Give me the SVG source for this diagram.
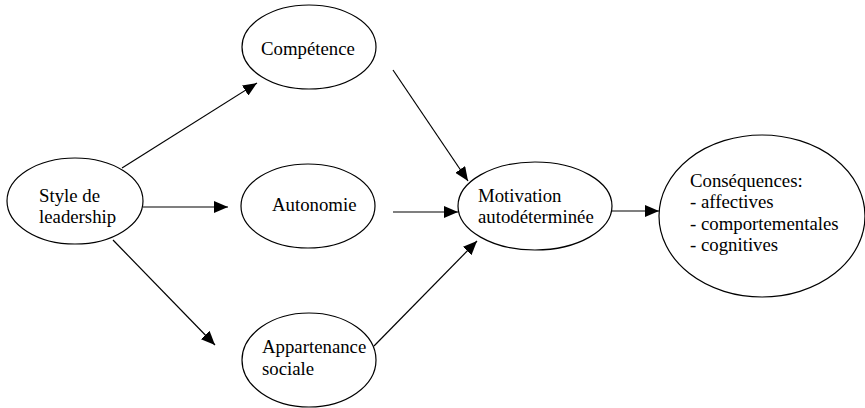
<svg xmlns="http://www.w3.org/2000/svg" width="865" height="408" viewBox="0 0 865 408">
  <defs>
    <marker id="arrow" markerUnits="userSpaceOnUse" markerWidth="15" markerHeight="12" refX="14" refY="6" orient="auto">
      <path d="M0,0 L14,6 L0,12 Z" fill="#000"/>
    </marker>
    <style>
      .node ellipse { fill: #fff; stroke: #000; stroke-width: 1.2; }
      .node text { font-family: "Liberation Serif", "Times New Roman", serif; font-size: 18.8px; fill: #000; }
      .edges line { stroke: #000; stroke-width: 1.2; marker-end: url(#arrow); }
    </style>
  </defs>
  <rect width="865" height="408" fill="#fff"/>

  <g class="edges">
    <line x1="122" y1="168" x2="257" y2="83"/>
    <line x1="143" y1="207" x2="228" y2="207"/>
    <line x1="113" y1="240" x2="215" y2="345"/>
    <line x1="393" y1="70" x2="468" y2="181"/>
    <line x1="393" y1="212" x2="458" y2="212"/>
    <line x1="374" y1="346" x2="477" y2="241"/>
    <line x1="612" y1="211" x2="659" y2="211"/>
  </g>

  <g id="style" class="node">
    <ellipse cx="75" cy="201" rx="68" ry="43"/>
    <text x="39" y="202">Style de</text>
    <text x="39" y="223">leadership</text>
  </g>

  <g id="competence" class="node">
    <ellipse cx="309" cy="47" rx="67" ry="42"/>
    <text x="261" y="55">Compétence</text>
  </g>

  <g id="autonomie" class="node">
    <ellipse cx="308" cy="206" rx="67" ry="42"/>
    <text x="272" y="211">Autonomie</text>
  </g>

  <g id="appartenance" class="node">
    <ellipse cx="309" cy="360" rx="67" ry="47"/>
    <text x="262" y="353">Appartenance</text>
    <text x="262" y="375">sociale</text>
  </g>

  <g id="motivation" class="node">
    <ellipse cx="535" cy="206" rx="77" ry="44"/>
    <text x="478" y="202">Motivation</text>
    <text x="478" y="223">autodéterminée</text>
  </g>

  <g id="consequences" class="node">
    <ellipse cx="762" cy="216" rx="103" ry="81"/>
    <text x="690" y="187">Conséquences:</text>
    <text x="690" y="208">- affectives</text>
    <text x="690" y="230">- comportementales</text>
    <text x="690" y="251">- cognitives</text>
  </g>
</svg>
